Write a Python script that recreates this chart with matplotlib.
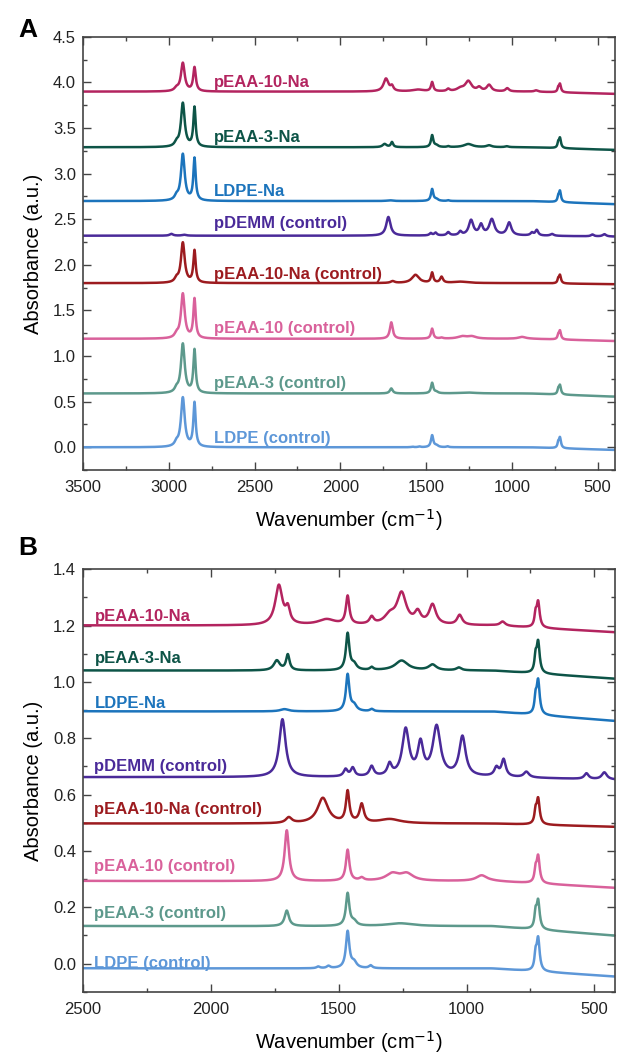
import numpy as np
import matplotlib.pyplot as plt
from matplotlib.ticker import MultipleLocator

plt.rcParams['font.family'] = ['Liberation Sans', 'DejaVu Sans']

# sample names, top to bottom
names = ['pEAA-10-Na', 'pEAA-3-Na', 'LDPE-Na', 'pDEMM (control)',
         'pEAA-10-Na (control)', 'pEAA-10 (control)', 'pEAA-3 (control)',
         'LDPE (control)']
colors = ['#b3245f', '#0d5447', '#1c74bc', '#4a2a99',
          '#9c1b1f', '#d9619b', '#5d998c', '#5d97d8']

# peaks: (wavenumber, height above baseline, half width)
peaks_peaa10na = [(2955, 0.03, 14), (2918, 0.31, 13), (2850, 0.26, 9),
                  (1734, 0.14, 17), (1699, 0.05, 10), (1547, 0.02, 40),
                  (1465, 0.10, 8), (1371, 0.025, 10), (1300, 0.03, 25),
                  (1254, 0.11, 22), (1191, 0.04, 14), (1133, 0.07, 16),
                  (1027, 0.035, 12), (859, 0.015, 12), (730, 0.04, 5),
                  (720, 0.09, 7)]
peaks_peaa3na = [(2955, 0.04, 12), (2918, 0.48, 13), (2850, 0.43, 8),
                 (1742, 0.035, 14), (1699, 0.055, 8), (1465, 0.13, 8),
                 (1440, 0.02, 12), (1371, 0.01, 8), (1254, 0.035, 30),
                 (1133, 0.02, 18), (1030, 0.01, 12), (730, 0.05, 5),
                 (720, 0.11, 7)]
peaks_ldpena = [(2955, 0.04, 12), (2918, 0.51, 13), (2850, 0.46, 8),
                (1712, 0.008, 20), (1465, 0.13, 8), (1440, 0.02, 12),
                (1371, 0.008, 8), (730, 0.05, 5), (720, 0.12, 7)]
peaks_pdemm = [(2985, 0.02, 12), (2910, 0.01, 15), (1720, 0.205, 15),
               (1473, 0.025, 9), (1445, 0.03, 9), (1371, 0.035, 10),
               (1301, 0.04, 10), (1238, 0.165, 16), (1180, 0.11, 13),
               (1117, 0.175, 18), (1016, 0.14, 15), (883, 0.03, 10),
               (855, 0.06, 10), (766, 0.02, 12), (531, 0.02, 10),
               (461, 0.025, 12)]
peaks_peaa10na_ctrl = [(2955, 0.04, 12), (2918, 0.44, 13), (2850, 0.35, 8),
                       (1695, 0.02, 14), (1562, 0.09, 25), (1465, 0.11, 8),
                       (1410, 0.065, 10), (1300, 0.015, 50), (730, 0.04, 5),
                       (720, 0.09, 7)]
peaks_peaa10_ctrl = [(2955, 0.04, 12), (2918, 0.49, 13), (2850, 0.43, 8),
                     (1703, 0.18, 10), (1465, 0.11, 8), (1410, 0.01, 10),
                     (1290, 0.025, 30), (1234, 0.025, 30), (941, 0.02, 25),
                     (730, 0.04, 5), (720, 0.095, 7)]
peaks_peaa3_ctrl = [(2955, 0.04, 12), (2918, 0.54, 13), (2850, 0.47, 8),
                    (1703, 0.055, 10), (1465, 0.115, 8), (1440, 0.015, 12),
                    (1260, 0.01, 60), (730, 0.05, 5), (720, 0.10, 7)]
peaks_ldpe_ctrl = [(2955, 0.04, 12), (2918, 0.54, 13), (2850, 0.48, 8),
                   (1580, 0.006, 8), (1540, 0.008, 8), (1465, 0.13, 8),
                   (1440, 0.02, 12), (1375, 0.01, 8), (730, 0.05, 5),
                   (720, 0.115, 7)]
all_peaks = [peaks_peaa10na, peaks_peaa3na, peaks_ldpena, peaks_pdemm,
             peaks_peaa10na_ctrl, peaks_peaa10_ctrl, peaks_peaa3_ctrl,
             peaks_ldpe_ctrl]

# baseline offsets in each panel and baseline drop at the low-wavenumber end
offset_a = [3.90, 3.29, 2.70, 2.32, 1.80, 1.19, 0.59, 0.00]
offset_b = [1.20, 1.04, 0.895, 0.662, 0.497, 0.293, 0.133, -0.017]
end_drop = [0.025, 0.03, 0.035, 0.01, 0.012, 0.025, 0.035, 0.03]

# label positions (wavenumber of left edge, y centre)
label_x_a = 2735
label_y_a = [4.00, 3.40, 2.80, 2.45, 1.90, 1.30, 0.70, 0.10]
label_x_b = 2455
label_y_b = [1.232, 1.082, 0.925, 0.70, 0.546, 0.343, 0.178, 0.0]

wn = np.linspace(3600, 300, 3301)


def spectrum(peaks, drop):
    y = np.zeros_like(wn)
    for c, h, w in peaks:
        y += h * w ** 2 / ((wn - c) ** 2 + w ** 2)
    y -= drop * np.clip((900 - wn) / 500, 0, 1)
    return y


fig = plt.figure(figsize=(6.17, 10.54), dpi=100)
ax_a = fig.add_axes([0.1345, 0.554, 0.862, 0.411])
ax_b = fig.add_axes([0.1345, 0.059, 0.862, 0.401])

for i in range(len(names)):
    y = spectrum(all_peaks[i], end_drop[i])
    ax_a.plot(wn, y + offset_a[i], color=colors[i], lw=1.8)
    ax_b.plot(wn, y + offset_b[i], color=colors[i], lw=1.8)
    ax_a.text(label_x_a, label_y_a[i], names[i], color=colors[i],
              fontsize=12, fontweight='bold', va='center', ha='left')
    ax_b.text(label_x_b, label_y_b[i], names[i], color=colors[i],
              fontsize=12, fontweight='bold', va='center', ha='left')

ax_a.set_xlim(3500, 400)
ax_a.set_ylim(-0.25, 4.5)
ax_a.xaxis.set_major_locator(MultipleLocator(500))
ax_a.xaxis.set_minor_locator(MultipleLocator(250))
ax_a.yaxis.set_major_locator(MultipleLocator(0.5))
ax_a.yaxis.set_minor_locator(MultipleLocator(0.25))
ax_a.yaxis.set_major_formatter(plt.FormatStrFormatter('%.1f'))

ax_b.set_xlim(2500, 420)
ax_b.set_ylim(-0.1, 1.4)
ax_b.xaxis.set_major_locator(MultipleLocator(500))
ax_b.xaxis.set_minor_locator(MultipleLocator(250))
ax_b.yaxis.set_major_locator(MultipleLocator(0.2))
ax_b.yaxis.set_minor_locator(MultipleLocator(0.1))
ax_b.yaxis.set_major_formatter(plt.FormatStrFormatter('%.1f'))

for ax in (ax_a, ax_b):
    ax.tick_params(which='both', direction='in', top=True, right=True,
                   labelsize=12, color='#444444', labelcolor='#222222')
    ax.tick_params(which='major', length=6, width=1)
    ax.tick_params(which='minor', length=3, width=1)
    ax.tick_params(axis='x', which='major', pad=7)
    ax.tick_params(axis='y', which='major', pad=5)
    for s in ax.spines.values():
        s.set_linewidth(1.2)
        s.set_color('#444444')
    ax.set_xlabel('Wavenumber (cm$^{-1}$)', fontsize=14.5, labelpad=9)
    ax.set_ylabel('Absorbance (a.u.)', fontsize=14.5, labelpad=7)

fig.text(28 / 617, 1 - 30 / 1054, 'A', fontsize=19, fontweight='bold',
         ha='center', va='center')
fig.text(28 / 617, 1 - 548 / 1054, 'B', fontsize=19, fontweight='bold',
         ha='center', va='center')

plt.savefig('out.png', dpi=100)
